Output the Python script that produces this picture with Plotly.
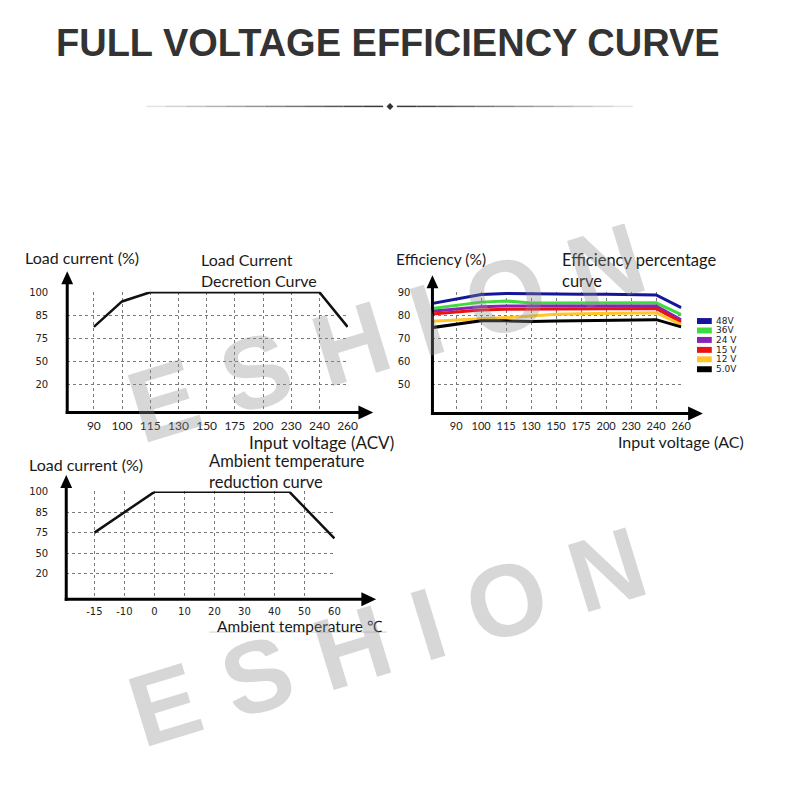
import numpy as np
import plotly.graph_objects as go

# page body has an 8px margin on every side: shrink the figure so the page fits
OFF = 8
W, H = 790 - 2 * OFF, 809 - 2 * OFF

# ---------------- data ----------------
lc_volt_labels = [90, 100, 115, 130, 150, 175, 200, 230, 240, 260]
lc_load_labels = [20, 50, 75, 85, 100]
lc_curve_volt = [90, 100, 115, 240, 260]
lc_curve_load = [80, 94, 100, 100, 80]

eff_volt_labels = [90, 100, 115, 130, 150, 175, 200, 230, 240, 260]
eff_ticks = [50, 60, 70, 80, 90]
eff_volt = [80, 100, 115, 130, 150, 175, 200, 230, 240, 260]
eff_48 = [85.0, 89.0, 89.4, 89.2, 89.1, 89.1, 89.1, 89.1, 88.8, 83.3]
eff_36 = [82.9, 85.7, 86.2, 85.3, 85.3, 85.4, 85.4, 85.4, 85.4, 80.3]
eff_24 = [81.7, 83.7, 84.0, 84.0, 84.0, 84.0, 84.0, 84.0, 84.0, 78.0]
eff_15 = [80.5, 82.3, 82.6, 82.6, 82.7, 82.8, 82.8, 82.8, 82.9, 77.1]
eff_12 = [77.4, 78.3, 79.0, 79.7, 80.4, 80.7, 80.8, 80.8, 81.1, 76.0]
eff_5 = [74.6, 77.6, 77.6, 77.3, 77.5, 77.7, 77.8, 78.0, 78.1, 75.0]
eff_names = ["48V", "36V", "24 V", "15 V", "12 V", "5.0V"]
eff_colors = ["#16169a", "#3ddc3d", "#8a22b8", "#e81414", "#ffc52a", "#000000"]
eff_series = [eff_48, eff_36, eff_24, eff_15, eff_12, eff_5]

temp_labels = [-15, -10, 0, 10, 20, 30, 40, 50, 60]
temp_curve_t = [-15, 0, 45, 60]
temp_curve_load = [75, 100, 100, 68]


def cat_pos(values, labels):
    """position of values on an evenly spaced category scale (linear extrapolation)"""
    labels = np.asarray(labels, float)
    idx = np.arange(len(labels), dtype=float)
    v = np.asarray(values, float)
    out = np.interp(v, labels, idx)
    lo = v < labels[0]
    out[lo] = (v[lo] - labels[0]) / (labels[1] - labels[0])
    return out


def px(x):
    return (x - OFF) / W


def py(y):
    return 1 - (y - OFF) / H


TXT = "Lato"
fig = go.Figure()

# chart 1
fig.add_trace(go.Scatter(x=cat_pos(lc_curve_volt, lc_volt_labels),
                         y=cat_pos(lc_curve_load, lc_load_labels) + 1,
                         mode="lines", line=dict(color="#111", width=2.5),
                         xaxis="x", yaxis="y", showlegend=False))
# chart 2
for name, col, ser in zip(eff_names, eff_colors, eff_series):
    fig.add_trace(go.Scatter(x=cat_pos(eff_volt, eff_volt_labels), y=ser,
                             mode="lines", line=dict(color=col, width=3),
                             name=name, xaxis="x2", yaxis="y2", showlegend=False))
# chart 3
fig.add_trace(go.Scatter(x=cat_pos(temp_curve_t, temp_labels),
                         y=cat_pos(temp_curve_load, lc_load_labels) + 1,
                         mode="lines", line=dict(color="#111", width=2.5),
                         xaxis="x3", yaxis="y3", showlegend=False))

grid = dict(showgrid=True, gridcolor="#7a7a7a", gridwidth=1, griddash="dot",
            zeroline=False, showline=False, ticks="outside",
            tickcolor="rgba(0,0,0,0)", fixedrange=True)

tickfont_x = dict(family=TXT, size=12, color="#222")
tickfont_y = dict(family="DejaVu Sans", size=10, color="#222")

layout = dict(
    width=W, height=H, autosize=False,
    margin=dict(l=0, r=0, t=0, b=0),
    paper_bgcolor="white", plot_bgcolor="white",
    xaxis=dict(domain=[px(68), px(352.6)], range=[-0.945, 9.02],
               tickvals=list(range(len(lc_volt_labels))),
               ticktext=[str(v) for v in lc_volt_labels],
               ticklen=2, tickfont=tickfont_x, anchor="y", **grid),
    yaxis=dict(domain=[py(410), py(288.5)], range=[-0.204, 5.02],
               tickvals=list(range(1, len(lc_load_labels) + 1)),
               ticktext=[str(v) for v in lc_load_labels],
               ticklen=16, tickfont=tickfont_y, anchor="x", **grid),
    xaxis2=dict(domain=[px(438), px(690.5)], range=[-0.947, 9.02],
                tickvals=list(range(len(eff_volt_labels))),
                ticktext=[str(v) for v in eff_volt_labels],
                ticklen=2, tickfont=dict(family=TXT, size=11, color="#222"),
                anchor="y2", **grid),
    yaxis2=dict(domain=[py(411), py(288.5)], range=[37.5, 90.2],
                tickvals=eff_ticks, ticktext=[str(v) for v in eff_ticks],
                ticklen=19, tickfont=tickfont_y, anchor="x2", **grid),
    xaxis3=dict(domain=[px(67), px(339.3)], range=[-0.94, 8.02],
                tickvals=list(range(len(temp_labels))),
                ticktext=[str(v) for v in temp_labels],
                ticklen=3, tickfont=dict(family="DejaVu Sans", size=10, color="#222"),
                anchor="y3", **grid),
    yaxis3=dict(domain=[py(598), py(489.5)], range=[-0.27, 5.02],
                tickvals=list(range(1, len(lc_load_labels) + 1)),
                ticktext=[str(v) for v in lc_load_labels],
                ticklen=15, tickfont=tickfont_y, anchor="x3", **grid),
)
fig.update_layout(**layout)

shapes = []


def axis_arrows(x0, y0, xtip, ytip):
    # x axis
    shapes.append(dict(type="line", xref="paper", yref="paper",
                       x0=px(x0 - 1.5), y0=py(y0), x1=px(xtip - 12), y1=py(y0),
                       line=dict(color="black", width=3)))
    shapes.append(dict(type="path", xref="paper", yref="paper",
                       path=f"M {px(xtip-15)} {py(y0-7)} L {px(xtip)} {py(y0)} L {px(xtip-15)} {py(y0+7)} Z",
                       fillcolor="black", line=dict(color="black", width=0)))
    # y axis
    shapes.append(dict(type="line", xref="paper", yref="paper",
                       x0=px(x0), y0=py(y0 + 1.5), x1=px(x0), y1=py(ytip + 10),
                       line=dict(color="black", width=3)))
    shapes.append(dict(type="path", xref="paper", yref="paper",
                       path=f"M {px(x0-6)} {py(ytip+13)} L {px(x0)} {py(ytip)} L {px(x0+6)} {py(ytip+13)} Z",
                       fillcolor="black", line=dict(color="black", width=0)))


axis_arrows(68, 410, 378, 268)
axis_arrows(438, 411, 712, 272)
axis_arrows(67, 598, 381, 473)

# divider under the title with a fade
segs = 12
for side in (0, 1):
    a, b = (148, 388) if side == 0 else (402, 641)
    for i in range(segs):
        xs0 = a + (b - a) * i / segs
        xs1 = a + (b - a) * (i + 1) / segs
        t = (i + 0.5) / segs
        fade = t if side == 0 else 1 - t
        g = int(235 - 185 * fade)
        shapes.append(dict(type="line", xref="paper", yref="paper",
                           x0=px(xs0), x1=px(xs1), y0=py(102), y1=py(102),
                           line=dict(color=f"rgb({g},{g},{g})", width=1.5)))
shapes.append(dict(type="path", xref="paper", yref="paper",
                   path=f"M {px(395)} {py(98.5)} L {px(398.5)} {py(102)} L {px(395)} {py(105.5)} L {px(391.5)} {py(102)} Z",
                   fillcolor="#333", line=dict(width=0)))

# faint underline under the temperature title
shapes.append(dict(type="line", xref="paper", yref="paper",
                   x0=px(212), x1=px(392), y0=py(631), y1=py(631),
                   line=dict(color="#d0d0d0", width=1)))

# legend for efficiency chart
legend_y = [318, 327.5, 337, 347, 356.5, 366.5]
for name, col, yy in zip(eff_names, eff_colors, legend_y):
    shapes.append(dict(type="rect", xref="paper", yref="paper",
                       x0=px(706), x1=px(721), y0=py(yy - 3), y1=py(yy + 3),
                       fillcolor=col, line=dict(width=0)))

ann = []


def text(x, y, s, size, family=TXT, color="#1a1a1a", anchor="left", **kw):
    ann.append(dict(x=px(x), y=py(y), xref="paper", yref="paper", text=s,
                    showarrow=False, xanchor=anchor, yanchor="middle", align="left",
                    font=dict(family=family, size=size, color=color), **kw))


for name, yy in zip(eff_names, legend_y):
    text(723, yy, name, 9, family="DejaVu Sans", color="#222")

# title
ann.append(dict(x=px(393), y=py(38), xref="paper", yref="paper",
                text="<b>FULL VOLTAGE EFFICIENCY CURVE</b>", showarrow=False,
                xanchor="center", yanchor="middle",
                font=dict(family="Liberation Sans, Arial", size=38, color="#333")))

# chart 1 texts
text(23, 254, "Load current (%)", 16)
text(201, 267, "Load Current<br>Decretion Curve", 16)
text(250, 440, "Input voltage (ACV)", 17)
# chart 2 texts
text(399, 256, "Efficiency (%)", 15.5)
text(567, 267, "Efficiency percentage<br>curve", 16.5)
text(624, 439, "Input voltage (AC)", 16)
# chart 3 texts
text(27, 462, "Load current (%)", 16)
text(210, 469, "Ambient temperature<br>reduction curve", 16.5)
text(218, 625, "Ambient temperature ℃", 15.5)

# watermarks
for cx, cy in [(391, 330), (392, 636)]:
    ann.append(dict(x=px(cx), y=py(cy), xref="paper", yref="paper",
                    text="<b>E S H I O N</b>", showarrow=False,
                    xanchor="center", yanchor="middle", textangle=-17,
                    font=dict(family="Liberation Sans", size=102,
                              color="rgba(140,140,140,0.35)")))

fig.update_layout(shapes=shapes, annotations=ann)
fig.write_html("out.html")
